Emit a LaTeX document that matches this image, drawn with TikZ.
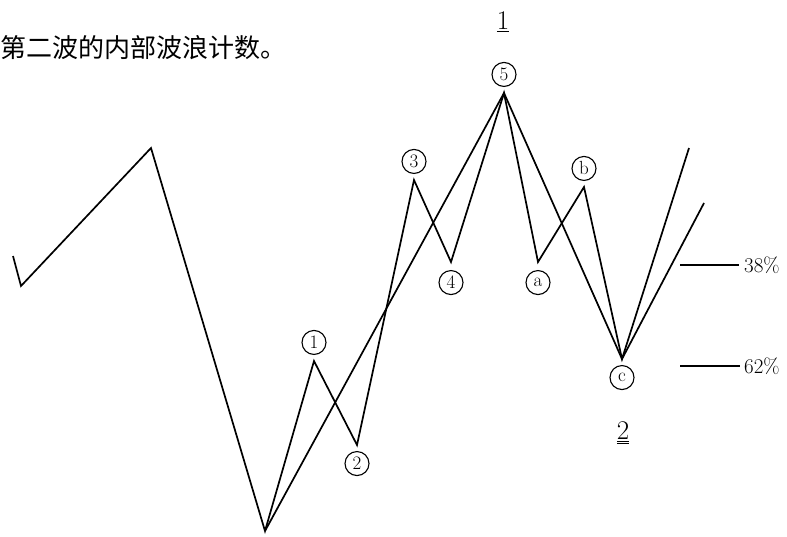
\documentclass[tikz,border=0pt]{standalone}
\usepackage{fontspec}
\newfontfamily\cjk{Noto Sans CJK SC}
\usetikzlibrary{positioning}
\tikzset{
  wave/.style={black, line width=1.7pt, line join=miter},
  cnt/.style={circle, draw, line width=1.1pt, inner sep=0pt, minimum size=24pt, font=\fontsize{19}{19}\selectfont},
  deg/.style={inner sep=0pt, font=\fontsize{27}{27}\selectfont},
  lvl/.style={black, line width=1.7pt},
  pct/.style={inner sep=0pt, anchor=west, font=\fontsize{21}{21}\selectfont}
}

\begin{document}
\begin{tikzpicture}[x=1pt, y=-1pt, node distance=6pt]
\useasboundingbox (0,0) rectangle (787,536);
\node[anchor=base west, inner sep=0pt, font=\cjk\fontsize{26}{26}\selectfont] (title) at (0,57) {第二波的内部波浪计数。};

% wave points
\coordinate (s0) at (13,256);
\coordinate (s1) at (21,286);
\coordinate (s2) at (151,148);
\coordinate (w0) at (265,531);
\coordinate (w1) at (314,361);
\coordinate (w2) at (357,445);
\coordinate (w3) at (414,180);
\coordinate (w4) at (451,262);
\coordinate (w5) at (504,93);
\coordinate (wa) at (538,262);
\coordinate (wb) at (584,187);
\coordinate (wc) at (622,359);
\coordinate (e1) at (689,148);
\coordinate (e2) at (704,203);

\draw[wave] (s0) -- (s1) -- (s2) -- (w0) -- (w1) -- (w2) -- (w3) -- (w4) -- (w5) -- (wa) -- (wb) -- (wc) -- (e1);
\draw[wave] (w0) -- (w5) -- (wc) -- (e2);

\node[cnt, above=of w1] (n1) {1};
\node[cnt, below=of w2] (n2) {2};
\node[cnt, above=of w3] (n3) {3};
\node[cnt, below=8pt of w4] (n4) {4};
\node[cnt, above=of w5] (n5) {5};
\node[cnt, below=8pt of wa] (na) {a};
\node[cnt, above=of wb] (nb) {b};
\node[cnt, below=of wc] (nc) {c};

\node[deg] (d1) at (503,22) {\underline{1}};
\node[deg] (d2) at (623,433) {\underline{\underline{2}}};

% retracement levels
\coordinate (r38a) at (680,265);
\coordinate (r38b) at (739,265);
\coordinate (r62a) at (680,366);
\coordinate (r62b) at (740,366);
\draw[lvl] (r38a) -- (r38b);
\draw[lvl] (r62a) -- (r62b);
\node[pct, right=5pt of r38b] (p38) {38\%};
\node[pct, right=4pt of r62b] (p62) {62\%};
\end{tikzpicture}
\end{document}
